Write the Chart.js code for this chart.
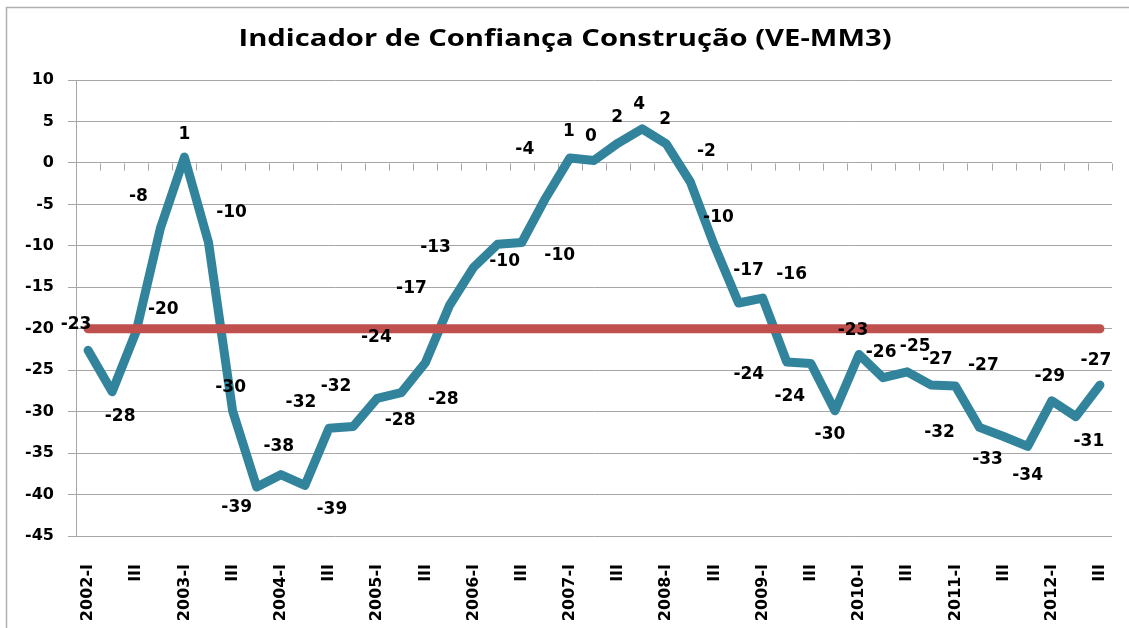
<!DOCTYPE html>
<html><head><meta charset="utf-8">
<script src="https://cdn.jsdelivr.net/npm/chart.js@4.4.0/dist/chart.umd.min.js"></script>
<style>html,body{margin:0;padding:0;background:#fff;}#wrap{position:relative;width:1129px;height:628px;}</style>
</head><body><div id="wrap"><canvas id="c" width="1129" height="628" aria-label="Indicador de Confiança Construção (VE-MM3)"></canvas></div>
<script>
const chartTitle = 'Indicador de Confiança Construção (VE-MM3)';
const categories = [
  '2002-I','II','III','IV','2003-I','II','III','IV','2004-I','II','III','IV',
  '2005-I','II','III','IV','2006-I','II','III','IV','2007-I','II','III','IV',
  '2008-I','II','III','IV','2009-I','II','III','IV','2010-I','II','III','IV',
  '2011-I','II','III','IV','2012-I','II','III'
];
const confidence = [
  -22.6, -27.6, -20.3, -7.9, 0.7, -9.6, -29.9, -39.1, -37.6, -38.9, -32.0, -31.8,
  -28.4, -27.7, -24.1, -17.2, -12.6, -9.8, -9.6, -4.2, 0.6, 0.3, 2.4, 4.1,
  2.3, -2.3, -10.0, -16.9, -16.3, -24.0, -24.2, -29.9, -23.1, -25.9, -25.2, -26.8,
  -26.9, -31.9, -33.0, -34.2, -28.7, -30.6, -26.8
];
const referenceLevel = [
  -20,-20,-20,-20,-20,-20,-20,-20,-20,-20,-20,-20,-20,-20,-20,-20,-20,-20,-20,-20,-20,-20,
  -20,-20,-20,-20,-20,-20,-20,-20,-20,-20,-20,-20,-20,-20,-20,-20,-20,-20,-20,-20,-20
];
const yMin = -45, yMax = 10, yStep = 5;

// label placement (pixel offsets from each point) - layout only
const labelOffsets = [
  [-12,-26],[8,25],[27,-22],[-22,-32],[0,-23],[23,-30],[-2,-23],[-20,20],[-2,-28],[27,24],
  [-28,-26],[-17,-40],[23,22],[42,7],[-49,-25],[-38,-17],[-38,-20],[7,17],[38,13],[-21,-48],
  [-1,-26],[-3,-24],[-1,-25],[-3,-24],[-1,-24],[16,-30],[4,-28],[10,-32],[29,-23],[-38,13],
  [-21,33],[-5,24],[-6,-24],[-2,-25],[8,-25],[6,-26],[28,-20],[-40,5],[-16,23],[0,29],
  [-2,-24],[13,25],[-4,-25]
];

const GRID = '#A6A6A6';
const TICK_FONT = {family: '"DejaVu Sans", Verdana, sans-serif', size: 16, weight: 'bold'};

const framePlugin = {
  id: 'frame',
  beforeDraw(chart) {
    const ctx = chart.ctx;
    ctx.save();
    ctx.fillStyle = '#fff';
    ctx.fillRect(0, 0, chart.width, chart.height);
    ctx.strokeStyle = '#B0B0B0';
    ctx.lineWidth = 1.5;
    ctx.strokeRect(6.5, 7.5, chart.width + 20, chart.height + 20);
    // title (horizontally stretched like the original)
    ctx.fillStyle = '#000';
    ctx.font = 'bold 23px "Open Sans", sans-serif';
    ctx.textAlign = 'center';
    ctx.textBaseline = 'middle';
    ctx.translate(565, 39);
    ctx.scale(1.27, 1);
    ctx.fillText(chartTitle, 0, 0);
    ctx.restore();
  }
};

const zeroAxisPlugin = {
  id: 'zeroAxis',
  beforeDatasetsDraw(chart) {
    const {ctx, chartArea, scales} = chart;
    const y0 = Math.round(scales.y.getPixelForValue(0)) + 0.5;
    const n = categories.length;
    const w = (chartArea.right - chartArea.left) / n;
    ctx.save();
    ctx.strokeStyle = GRID;
    ctx.lineWidth = 1;
    ctx.beginPath();
    for (let i = 1; i <= n; i++) {
      const x = Math.round(chartArea.left + i * w) + 0.5;
      ctx.moveTo(x, y0);
      ctx.lineTo(x, y0 + 7);
    }
    ctx.stroke();
    ctx.restore();
  }
};

const dataLabelPlugin = {
  id: 'dataLabels',
  afterDatasetsDraw(chart) {
    const ctx = chart.ctx;
    const meta = chart.getDatasetMeta(1);
    ctx.save();
    ctx.font = 'bold 17px "DejaVu Sans", Verdana, sans-serif';
    ctx.fillStyle = '#000';
    ctx.textAlign = 'center';
    ctx.textBaseline = 'middle';
    meta.data.forEach((pt, i) => {
      const v = confidence[i];
      const txt = String(Math.round(v));
      const off = labelOffsets[i] || [0, -22];
      ctx.fillText(txt, pt.x + off[0], pt.y + off[1]);
    });
    ctx.restore();
  }
};

new Chart(document.getElementById('c'), {
  type: 'line',
  data: {
    labels: categories,
    datasets: [
      {
        label: 'Referência',
        data: referenceLevel,
        borderColor: '#C0504D',
        borderWidth: 9,
        borderCapStyle: 'round',
        pointRadius: 0,
        fill: false,
        order: 0
      },
      {
        label: 'Indicador de Confiança Construção',
        data: confidence,
        borderColor: '#31849B',
        borderWidth: 9,
        borderJoinStyle: 'round',
        borderCapStyle: 'round',
        pointRadius: 0,
        tension: 0,
        fill: false,
        order: 1
      }
    ]
  },
  options: {
    responsive: false,
    devicePixelRatio: 1,
    animation: false,
    layout: {padding: {left: 0, right: 17, top: 80, bottom: 0}},
    plugins: {
      legend: {display: false},
      tooltip: {enabled: false},
      title: {display: false}
    },
    scales: {
      x: {
        offset: true,
        grid: {display: false},
        border: {display: false},
        afterFit(s) { s.height = 92; s.paddingRight = 0; s.paddingLeft = 0; },
        ticks: {
          autoSkip: false,
          minRotation: 90,
          maxRotation: 90,
          padding: 20,
          color: '#000',
          font: TICK_FONT,
          callback(val, idx) { return idx % 2 === 0 ? categories[idx] : ''; }
        }
      },
      y: {
        min: yMin,
        max: yMax,
        afterFit(s) { s.width = 76; },
        grid: {color: GRID, lineWidth: 1, tickLength: 8, drawTicks: true},
        border: {display: true, color: GRID, width: 1},
        ticks: {stepSize: yStep, padding: 14, color: '#000', font: TICK_FONT}
      }
    }
  },
  plugins: [framePlugin, zeroAxisPlugin, dataLabelPlugin]
});
</script>
</body></html>
